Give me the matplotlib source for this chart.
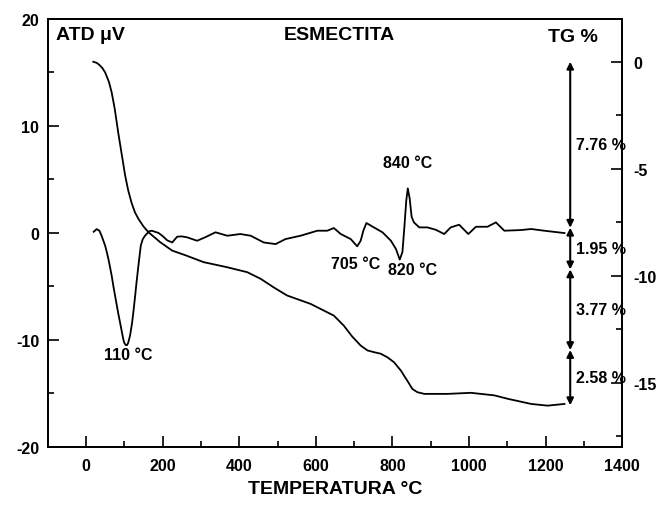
import matplotlib
matplotlib.use("Agg")
import matplotlib.pyplot as plt
from matplotlib.ticker import MultipleLocator

plt.rcParams['font.family'] = ['Liberation Sans', 'DejaVu Sans']
plt.rcParams['font.weight'] = 'bold'
plt.rcParams['axes.unicode_minus'] = False

# ATD curve (temperature in C, signal in uV)
atd_t = [20, 28, 35, 41, 45, 50, 55, 60, 67, 72, 78, 84, 89, 97, 100, 104, 107, 110,
         115, 120, 124, 128, 132, 138, 143, 148, 154,
         165, 172, 180, 189, 200, 212, 225, 238, 250, 264, 290, 312, 338, 369, 403,
         430, 464, 495, 521, 560, 604, 630, 647, 665, 691, 708, 717, 724, 732, 752,
         774, 796, 809, 819, 826, 831, 836, 840, 845, 850, 856, 870, 891, 913, 935,
         952, 974, 998, 1018, 1048, 1070, 1092, 1135, 1162, 1196, 1249]
atd_v = [0.1, 0.35, 0.2, -0.3, -0.7, -1.2, -1.9, -2.7, -4.0, -5.1, -6.3, -7.5, -8.4,
         -9.9, -10.3, -10.5, -10.5, -10.3, -9.6, -8.5, -7.3, -6.0, -4.6, -2.7, -1.2,
         -0.6, -0.27, 0.15, 0.2, 0.1, 0.0, -0.3, -0.7, -0.9, -0.36, -0.33,
         -0.42, -0.74, -0.4, 0.05, -0.27, -0.11, -0.27, -0.9, -1.05, -0.58, -0.27, 0.2,
         0.2, 0.45, -0.11, -0.58, -1.26, -0.74, 0.2, 0.92, 0.5, 0.05, -0.74, -1.5, -2.5,
         -1.8, 0.5, 3.0, 4.16, 3.2, 1.5, 0.98, 0.51, 0.51, 0.29, -0.11, 0.51, 0.76,
         -0.11, 0.57, 0.57, 0.98, 0.2, 0.26, 0.36, 0.2, -0.02]

# TG curve (temperature in C, mass change in %)
tg_t = [19, 28, 35, 43, 50, 60, 67, 75, 84, 93, 102, 110, 119, 128, 137, 150, 163, 194,
        225, 260, 307, 369, 421, 456, 490, 525, 586, 647, 673, 695, 717, 735, 752, 769,
        787, 804, 822, 830, 840, 852, 865, 883, 944, 1005, 1066, 1101, 1162, 1205, 1249]
tg_v = [0.0, -0.05, -0.15, -0.3, -0.5, -0.95, -1.43, -2.2, -3.3, -4.3, -5.3, -6.0,
        -6.6, -7.05, -7.35, -7.7, -7.97, -8.44, -8.83, -9.05, -9.37, -9.61, -9.84,
        -10.15, -10.55, -10.93, -11.32, -11.87, -12.34, -12.85, -13.27, -13.5, -13.58,
        -13.65, -13.82, -14.05, -14.44, -14.67, -14.95, -15.3, -15.45, -15.53, -15.53,
        -15.48, -15.6, -15.76, -16.0, -16.08, -16.0]

# mass loss steps
perdidas = [7.76, 1.95, 3.77, 2.58]
picos = [(110, -11.4, '110 °C'), (704, -2.9, '705 °C'),
         (853, -3.4, '820 °C'), (840, 6.6, '840 °C')]

fig = plt.figure(figsize=(6.67, 5.06), dpi=100)
ax = fig.add_axes([0.0715, 0.1152, 0.8615, 0.8453])
ax2 = ax.twinx()

ax.plot(atd_t, atd_v, color='black', lw=1.3)
ax2.plot(tg_t, tg_v, color='black', lw=1.3)

ax.set_xlim(-100, 1400)
ax.set_ylim(-20, 20)
ax2.set_ylim(-18, 2)

ax.xaxis.set_major_locator(MultipleLocator(200))
ax.xaxis.set_minor_locator(MultipleLocator(100))
ax.yaxis.set_major_locator(MultipleLocator(10))
ax.yaxis.set_minor_locator(MultipleLocator(5))
ax2.yaxis.set_major_locator(MultipleLocator(5))
ax2.yaxis.set_minor_locator(MultipleLocator(2.5))
ax2.set_yticks([0, -5, -10, -15])

for a in (ax, ax2):
    a.tick_params(which='major', direction='in', length=8, width=1.2, labelsize=11.5)
    a.tick_params(which='minor', direction='in', length=4, width=1.2)
    for s in a.spines.values():
        s.set_linewidth(1.3)
ax.tick_params(axis='x', pad=8)
ax.tick_params(axis='y', pad=6)
ax2.tick_params(axis='y', pad=8)

ax.set_xlabel('TEMPERATURA °C', fontsize=14, fontweight='bold', labelpad=5)

ax.text(0.015, 0.983, 'ATD μV', transform=ax.transAxes, fontsize=14,
        fontweight='bold', va='top', ha='left')
ax.text(0.507, 0.983, 'ESMECTITA', transform=ax.transAxes, fontsize=14,
        fontweight='bold', va='top', ha='center')
ax.text(0.958, 0.978, 'TG %', transform=ax.transAxes, fontsize=14,
        fontweight='bold', va='top', ha='right')

for x, y, txt in picos:
    ax.text(x, y, txt, fontsize=11.5, fontweight='bold', ha='center', va='center')

# arrows for the mass losses
xa = 1264
nivel = 0.0
for p in perdidas:
    abajo = nivel - p
    ax2.annotate('', xy=(xa, abajo), xytext=(xa, nivel),
                 arrowprops=dict(arrowstyle='<|-|>', color='black', lw=1.5,
                                 mutation_scale=10, shrinkA=0, shrinkB=0))
    ax2.text(xa + 15, (nivel + abajo) / 2, '%.2f %%' % p, fontsize=11.5,
             fontweight='bold', ha='left', va='center')
    nivel = abajo

fig.savefig('out.png', dpi=100)
